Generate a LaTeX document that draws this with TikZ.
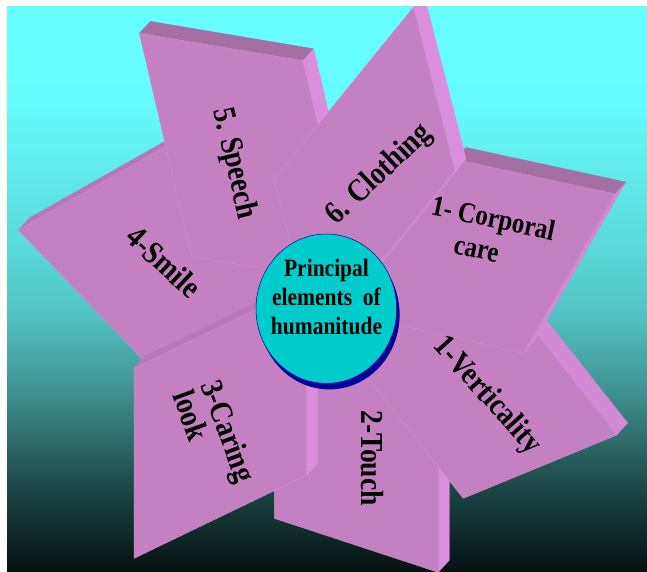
\documentclass[tikz,border=0pt]{standalone}
\usepackage{fontspec}
\setmainfont{Liberation Serif}[FakeStretch=0.86]
\usetikzlibrary{calc}
\definecolor{face}{RGB}{196,129,194}
\definecolor{facel}{RGB}{206,140,204}
\definecolor{topdark}{RGB}{164,111,162}
\definecolor{topmed}{RGB}{183,121,182}
\definecolor{sidelt}{RGB}{219,142,220}
\definecolor{sidemd}{RGB}{211,137,211}
\definecolor{ctrteal}{RGB}{0,204,204}
\definecolor{ctrblue}{RGB}{0,0,153}
\definecolor{bgA}{RGB}{102,255,255}
\definecolor{bgB}{RGB}{102,252,252}
\definecolor{bgC}{RGB}{99,240,240}
\definecolor{bgD}{RGB}{90,216,216}
\definecolor{bgE}{RGB}{82,192,192}
\definecolor{bgF}{RGB}{62,138,138}
\definecolor{bgG}{RGB}{31,76,76}
\definecolor{bgH}{RGB}{4,16,16}
\tikzset{
  pface/.style={fill=face, draw=facel, line width=0.5pt, line join=round},
  lbl/.style={font=\fontsize{32}{32}\selectfont\bfseries, text=black, inner sep=0pt},
  ctrtext/.style={font=\fontsize{25}{29}\selectfont\bfseries, text=black, inner sep=0pt, align=center},
}
\newcommand\sidestrip[3]{\filldraw[#3, line width=0.2pt] (#1) -- (#2) -- ($(#2)+(11,-12)$) -- ($(#1)+(11,-12)$) -- cycle;}
\begin{document}
\begin{tikzpicture}[x=1pt,y=-1pt]
\useasboundingbox (0,0) rectangle (647,572);
\fill[white] (0,0) rectangle (647,572);
\begin{scope}
\clip (7,7) rectangle (647,572);
\foreach \ya/\yb/\ca/\cb in {7/100/bgA/bgB, 100/150/bgB/bgC, 150/250/bgC/bgD, 250/320/bgD/bgE, 320/400/bgE/bgF, 400/480/bgF/bgG, 480/572/bgG/bgH}
  \shade[top color=\ca, bottom color=\cb] (7,\ya-0.3) rectangle (647,\yb+0.3);

% petal 4 : Smile
\coordinate (p4a) at (18.3,230);
\coordinate (p4b) at (200,127.2);
\coordinate (p4c) at (350,283.2);
\coordinate (p4d) at (168.3,386);
\sidestrip{p4a}{p4b}{topmed}
\sidestrip{p4b}{p4c}{sidelt}
\filldraw[pface] (p4a) -- (p4b) -- (p4c) -- (p4d) -- cycle;

% petal 2 : Touch
\coordinate (p2a) at (274.3,330);
\coordinate (p2b) at (438.3,383.7);
\coordinate (p2c) at (438.3,572.3);
\coordinate (p2d) at (274.3,518.3);
\sidestrip{p2a}{p2b}{topdark}
\sidestrip{p2b}{p2c}{sidelt}
\filldraw[pface] (p2a) -- (p2b) -- (p2c) -- (p2d) -- cycle;

% petal 3 : Caring look
\coordinate (p3a) at (134,368.3);
\coordinate (p3b) at (306.7,285);
\coordinate (p3c) at (306.7,475);
\coordinate (p3d) at (134,558.3);
\sidestrip{p3a}{p3b}{topmed}
\sidestrip{p3b}{p3c}{sidelt}
\filldraw[pface] (p3a) -- (p3b) -- (p3c) -- (p3d) -- cycle;

% petal 5 : Speech
\coordinate (p5a) at (139.3,33.3);
\coordinate (p5b) at (302.7,60.7);
\coordinate (p5c) at (355,284);
\coordinate (p5d) at (191.7,256.7);
\sidestrip{p5a}{p5b}{topdark}
\sidestrip{p5b}{p5c}{sidelt}
\filldraw[pface] (p5a) -- (p5b) -- (p5c) -- (p5d) -- cycle;

% petal V : Verticality
\coordinate (pva) at (340,342);
\coordinate (pvb) at (493.4,278.7);
\coordinate (pvc) at (616.7,435);
\coordinate (pvd) at (463.3,498.3);
\sidestrip{pva}{pvb}{topdark}
\sidestrip{pvb}{pvc}{sidemd}
\filldraw[pface] (pva) -- (pvb) -- (pvc) -- (pvd) -- cycle;

% petal 1 : Corporal care
\coordinate (p1a) at (455,159.4);
\coordinate (p1b) at (615,194);
\coordinate (p1c) at (523.3,353.3);
\coordinate (p1d) at (330,309);
\sidestrip{p1a}{p1b}{topdark}
\sidestrip{p1b}{p1c}{sidemd}
\filldraw[pface] (p1a) -- (p1b) -- (p1c) -- (p1d) -- cycle;

% petal 6 : Clothing
\coordinate (p6a) at (274,179);
\coordinate (p6b) at (413.3,7.3);
\coordinate (p6c) at (455,170.7);
\coordinate (p6d) at (315.7,342.4);
\sidestrip{p6b}{p6c}{sidelt}
\sidestrip{p6c}{p6d}{sidelt}
\filldraw[pface] (p6a) -- (p6b) -- (p6c) -- (p6d) -- cycle;
\end{scope}

% centre
\fill[ctrblue] (329.3,314.7) ellipse [x radius=70.3, y radius=74.7];
\filldraw[fill=ctrteal, draw=ctrblue, line width=0.5pt] (326.3,308.7) ellipse [x radius=70.3, y radius=74.7];
\node[ctrtext] (ctr) at (326.5,297) {Principal\\elements~~of\\humanitude};

% labels
\node[lbl, rotate=-77] (t5) at (234,164) {5. Speech};
\node[lbl, rotate=43] (t6) at (379.5,175) {6. Clothing};
\node[lbl, rotate=-12, align=left, font=\fontsize{29}{33}\selectfont\bfseries] (t1) at (490,234) {1- Corporal\\\hspace{30pt}care};
\node[lbl, rotate=-43] (t4) at (164,262) {4-Smile};
\node[lbl, rotate=-48] (tv) at (487,396) {1-Verticality};
\node[lbl, rotate=-90] (t2) at (372.5,458) {2-Touch};
\node[lbl, rotate=-70, align=left, font=\fontsize{32}{30}\selectfont\bfseries] (t3) at (215,436) {3-Caring\\look};
\end{tikzpicture}
\end{document}
